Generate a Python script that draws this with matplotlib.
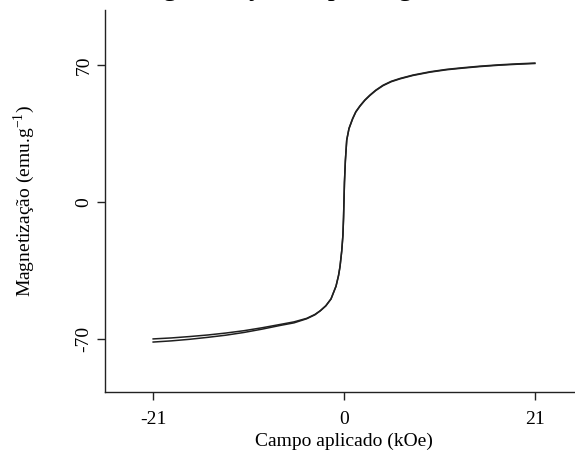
import matplotlib
matplotlib.use("Agg")
import matplotlib.pyplot as plt

plt.rcParams['font.family'] = ['Liberation Serif', 'DejaVu Serif']
plt.rcParams['mathtext.fontset'] = 'custom'
plt.rcParams['mathtext.rm'] = 'Liberation Serif'

# Field (kOe) and magnetization (emu/g)
campo = [-21, -19, -17, -15, -13, -11, -9, -7, -5.5, -4.1, -3.2, -2.6, -2.0,
         -1.43, -0.88, -0.6, -0.44, -0.25, -0.12, -0.05, 0, 0.05, 0.15, 0.3,
         0.55, 0.95, 1.3, 1.76, 2.3, 2.86, 3.5, 4.3, 5.2, 6.2, 7.6, 9.5, 11.3,
         13, 14.9, 17, 19, 21]
# descending branch (upper)
ramo_desc = [-69.9, -69.4, -68.7, -67.9, -66.9, -65.7, -64.2, -62.5, -61.2,
             -59.4, -57.4, -55.5, -53.0, -49.5, -43.0, -37.5, -33.0, -25.0,
             -17.0, -8.0, 1.0, 10.0, 21.0, 31.6, 37.6, 42.6, 46.1, 49.1, 52.1,
             54.6, 57.1, 59.6, 61.6, 63.1, 64.8, 66.5, 67.7, 68.5, 69.3, 70.0,
             70.5, 70.9]
# ascending branch (lower)
ramo_asc = [-71.5, -70.9, -70.1, -69.1, -68.0, -66.6, -64.9, -63.0, -61.7,
            -59.6, -57.6, -55.5, -53.0, -49.5, -43.0, -37.5, -33.0, -25.0,
            -17.0, -8.0, 1.0, 10.0, 21.0, 31.6, 37.4, 42.4, 45.9, 48.9, 51.9,
            54.4, 56.9, 59.4, 61.4, 62.9, 64.6, 66.3, 67.5, 68.3, 69.1, 69.8,
            70.3, 70.7]

xticks = [-21, 0, 21]
yticks = [-70, 0, 70]

fig = plt.figure(figsize=(5.75, 4.5), dpi=100)
ax = fig.add_axes([105/575, 58/450, 478/575, 382/450])

ax.plot(campo, ramo_desc, color='#202020', lw=1.1)
ax.plot(campo, ramo_asc, color='#202020', lw=1.1)

ax.set_xlim(-26.3, 26.3)
ax.set_ylim(-97, 98)
ax.set_xticks(xticks)
ax.set_yticks(yticks)
ax.set_xticklabels([str(v) for v in xticks], fontsize=14)
ax.set_yticklabels([str(v) for v in yticks], fontsize=14, rotation=90, va='center')

for s in ['top', 'right']:
    ax.spines[s].set_visible(False)
for s in ['left', 'bottom']:
    ax.spines[s].set_linewidth(1.0)
    ax.spines[s].set_color('#222222')

ax.tick_params(axis='both', direction='out', length=6, width=1.0, color='#222222')
ax.tick_params(axis='x', pad=8)
ax.tick_params(axis='y', pad=3)

ax.set_xlabel('Campo aplicado (kOe)', fontsize=14, labelpad=3)
ax.set_ylabel(r'Magnetização (emu.g$^{\mathregular{-1}}$)', fontsize=14, labelpad=28)

fig.text(125/575, 1.0 + 5/450, 'Magnetização do pó magnético', fontsize=20.5,
         ha='left', va='baseline')

fig.savefig('out.png', dpi=100)
